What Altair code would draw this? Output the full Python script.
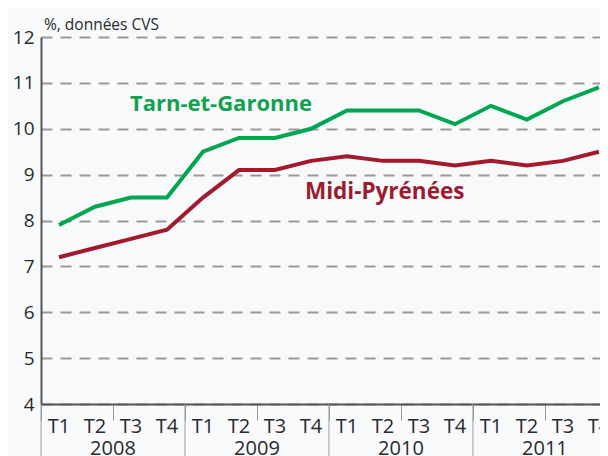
import altair as alt
import pandas as pd

quarters = ["T1", "T2", "T3", "T4"] * 4
years = ["2008", "2009", "2010", "2011"]
tarn = [7.9, 8.3, 8.5, 8.5, 9.5, 9.8, 9.8, 10.0, 10.4, 10.4, 10.4, 10.1, 10.5, 10.2, 10.6, 10.9]
midi = [7.2, 7.4, 7.6, 7.8, 8.5, 9.1, 9.1, 9.3, 9.4, 9.3, 9.3, 9.2, 9.3, 9.2, 9.3, 9.5]
y_ticks = [4, 5, 6, 7, 8, 9, 10, 11, 12]

FONT = "Open Sans"
GREEN = "#00a651"
GREEN_T = "#13a050"
RED = "#a11a2e"
RED_T = "#9b1c31"
W, H = 559, 367

n = len(quarters)
df = pd.DataFrame({
    "pos": [i + 0.5 for i in range(n)],
    "quarter": quarters,
    "Tarn-et-Garonne": tarn,
    "Midi-Pyrénées": midi,
})
long = df.melt(id_vars=["pos", "quarter"], value_vars=["Tarn-et-Garonne", "Midi-Pyrénées"],
               var_name="serie", value_name="taux")
years_df = pd.DataFrame({"year": years,
                         "center": [4 * i + 2 for i in range(len(years))],
                         "start": [4 * i for i in range(len(years))]})

xs = alt.Scale(domain=[0, 15.53], nice=False, zero=False)
ys = alt.Scale(domain=[4, 12], nice=False, zero=False)

base = alt.Chart(long).encode(
    x=alt.X("pos:Q", scale=xs,
            axis=alt.Axis(values=list(range(n)), labels=False, ticks=True, tickSize=16,
                          tickColor="#9a9a9a", tickWidth=1, domain=True, domainColor="#555555",
                          domainWidth=2, grid=False, title=None)),
)

lines = base.mark_line(strokeWidth=4, strokeJoin="miter").encode(
    y=alt.Y("taux:Q", scale=ys,
            axis=alt.Axis(values=y_ticks, title=None, ticks=False, labelFontSize=19,
                          labelColor="#2a2a2a", labelFont=FONT, labelPadding=7,
                          domain=True, domainColor="#555555", domainWidth=2,
                          grid=True, gridDash=[11, 8], gridColor="#999999", gridWidth=2)),
    color=alt.Color("serie:N", scale=alt.Scale(domain=["Tarn-et-Garonne", "Midi-Pyrénées"],
                                                range=[GREEN, RED]), legend=None),
    detail="serie:N",
)

q_labels = alt.Chart(df).mark_text(fontSize=20, font=FONT, color="#2a2a2a",
                                   baseline="alphabetic", align="center").encode(
    x=alt.X("pos:Q", scale=xs), y=alt.value(H + 29), text="quarter:N")

y_labels = alt.Chart(years_df).mark_text(fontSize=20, font=FONT, color="#2a2a2a",
                                         baseline="alphabetic", align="center").encode(
    x=alt.X("center:Q", scale=xs), y=alt.value(H + 51), text="year:N")

y_sep = alt.Chart(years_df).mark_rule(color="#9a9a9a", strokeWidth=1).encode(
    x=alt.X("start:Q", scale=xs), y=alt.value(H), y2=alt.value(H + 60))

note = alt.Chart(pd.DataFrame({"t": ["%, données CVS"]})).mark_text(
    fontSize=15.5, font=FONT, color="#2a2a2a", align="left", baseline="alphabetic").encode(
    x=alt.value(3), y=alt.value(-7), text="t:N")

lab_tarn = alt.Chart(pd.DataFrame({"t": ["Tarn-et-Garonne"]})).mark_text(
    fontSize=22, font=FONT, fontWeight="bold", color=GREEN_T, align="left",
    baseline="alphabetic").encode(x=alt.value(89), y=alt.value(74), text="t:N")

lab_midi = alt.Chart(pd.DataFrame({"t": ["Midi-Pyrénées"]})).mark_text(
    fontSize=22.5, font=FONT, fontWeight="bold", color=RED_T, align="left",
    baseline="alphabetic").encode(x=alt.value(264), y=alt.value(162), text="t:N")

chart = alt.layer(y_sep, lines, q_labels, y_labels, note, lab_tarn, lab_midi).properties(
    width=W, height=H,
    autosize=alt.AutoSizeParams(type="none"),
    padding={"left": 33, "top": 29, "right": 0, "bottom": 52},
    background="#f7f9fb",
).configure_view(stroke=None)

chart.save("out.html", embed_options={"renderer": "svg", "actions": False})
